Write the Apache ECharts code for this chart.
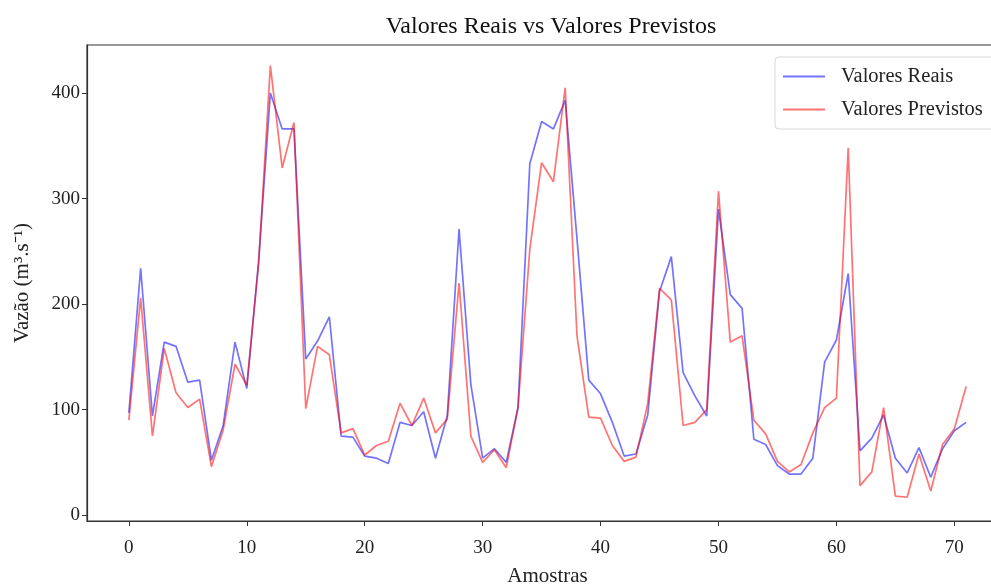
<!DOCTYPE html>
<html>
<head>
<meta charset="utf-8">
<script src="https://cdn.jsdelivr.net/npm/echarts@6/dist/echarts.min.js"></script>
<style>
html,body{margin:0;padding:0;background:#fff;}
#chart{width:991px;height:585px;}
</style>
</head>
<body>
<div id="chart"></div>
<script>
// ---- data ----
const samples = Array.from({length: 72}, (_, i) => i);
const valoresReais = [97,234,94,164,160,126,128,52,85,164,
  120,240,400,366,366,148,165,188,75,74,
  56,54,49,88,85,98,54,94,271,124,
  54,63,50,102,333,373,366,393,262,128,
  115,88,56,58,95,212,245,135,113,94,
  290,209,196,72,67,47,39,39,54,145,
  166,229,61,73,95,54,40,64,36,63,
  80,88];
const valoresPrevistos = [90,206,75,158,116,102,110,46,81,143,
  123,238,426,329,372,101,160,152,78,82,
  57,66,70,106,85,111,78,91,220,75,
  50,62,45,102,252,334,316,405,170,93,
  92,66,51,55,106,215,204,85,88,100,
  307,164,170,90,77,51,41,48,78,102,
  111,348,28,41,102,18,17,58,23,67,
  82,122];
const xTicks = [0,10,20,30,40,50,60,70];
const yTicks = [0,100,200,300,400];

const serif = '"Liberation Serif", "Times New Roman", serif';
const chart = echarts.init(document.getElementById('chart'), null, {renderer: 'canvas'});
const pairs = arr => arr.map((v, i) => [samples[i], v]);
const blue = 'rgba(0,0,255,0.55)';
const red = 'rgba(255,0,0,0.55)';

chart.setOption({
  animation: false,
  backgroundColor: '#ffffff',
  title: {
    text: 'Valores Reais vs Valores Previstos',
    left: 546, top: 10, textAlign: 'center',
    textStyle: {fontFamily: serif, fontSize: 24, fontWeight: 'normal', color: '#111'}
  },
  grid: {
    left: 87, top: 45, width: 921, height: 476,
    containLabel: false, outerBoundsMode: 'none',
    show: true, borderColor: '#333', borderWidth: 1.2, backgroundColor: 'transparent'
  },
  legend: {
    orient: 'vertical', left: 775, top: 57,
    padding: [8, 12, 8, 8], itemGap: 10, itemWidth: 42, itemHeight: 2,
    backgroundColor: '#fff', borderColor: '#d8d8d8', borderWidth: 1, borderRadius: 4,
    textStyle: {fontFamily: serif, fontSize: 20.5, color: '#222', padding: [0, 0, 0, 11], lineHeight: 23},
    data: [
      {name: 'Valores Reais', icon: 'rect', itemStyle: {color: blue}},
      {name: 'Valores Previstos', icon: 'rect', itemStyle: {color: red}}
    ]
  },
  xAxis: {
    type: 'value', min: -3.55, max: 74.55,
    name: 'Amostras', nameLocation: 'middle', nameGap: 45,
    nameTextStyle: {fontFamily: serif, fontSize: 21, color: '#222'},
    axisLine: {show: true, onZero: false, lineStyle: {color: '#333', width: 1.2}},
    axisTick: {show: true, length: 5, lineStyle: {color: '#333'}, customValues: xTicks},
    axisLabel: {fontFamily: serif, fontSize: 19, color: '#222', margin: 18, customValues: xTicks},
    splitLine: {show: false}
  },
  yAxis: {
    type: 'value', min: -5.5, max: 445.5,
    name: 'Vazão (m³.s⁻¹)', nameLocation: 'middle', nameGap: 54, nameRotate: 90,
    nameTextStyle: {fontFamily: serif, fontSize: 21, color: '#222'},
    axisLine: {show: true, onZero: false, lineStyle: {color: '#333', width: 1.2}},
    axisTick: {show: true, length: 5, lineStyle: {color: '#333'}, customValues: yTicks},
    axisLabel: {fontFamily: serif, fontSize: 19, color: '#222', margin: 7, customValues: yTicks},
    splitLine: {show: false}
  },
  series: [
    {
      name: 'Valores Reais', type: 'line', data: pairs(valoresReais),
      symbol: 'none', showSymbol: false,
      lineStyle: {color: blue, width: 1.7},
      itemStyle: {color: blue}
    },
    {
      name: 'Valores Previstos', type: 'line', data: pairs(valoresPrevistos),
      symbol: 'none', showSymbol: false,
      lineStyle: {color: red, width: 1.7},
      itemStyle: {color: red}
    }
  ]
});
</script>
</body>
</html>
